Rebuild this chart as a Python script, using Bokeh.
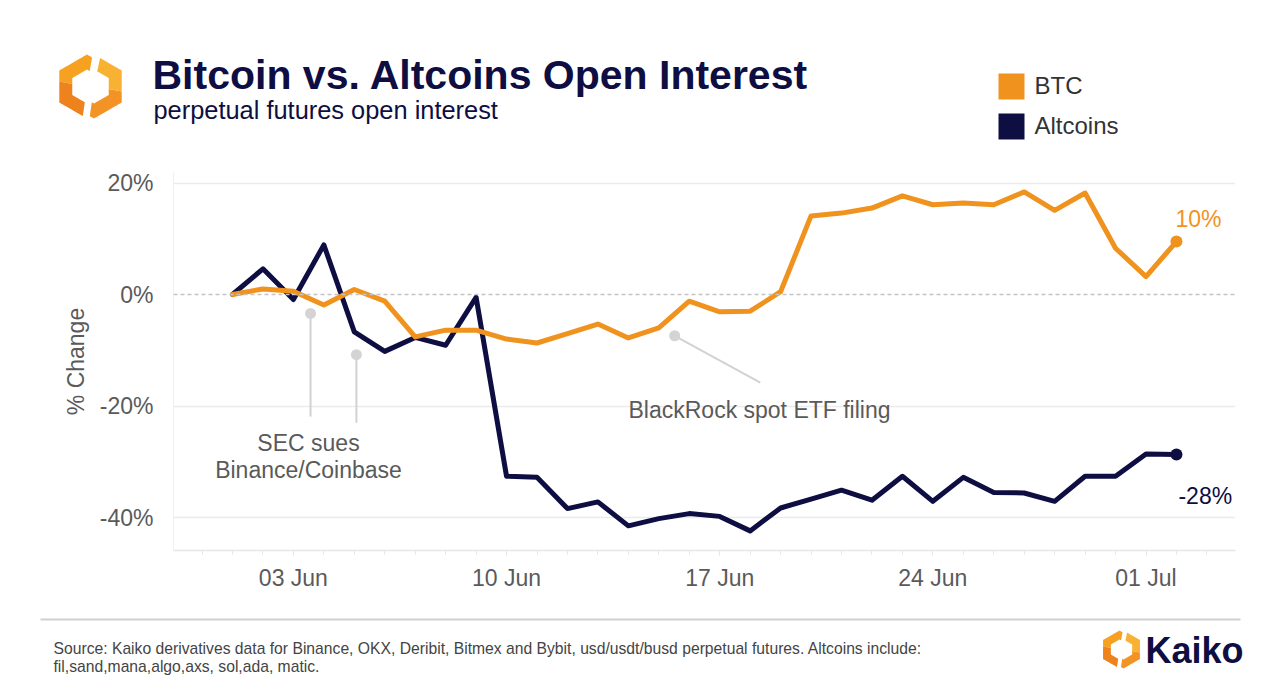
import math
import pandas as pd
from bokeh.plotting import figure
from bokeh.models import (Range1d, FixedTicker, PrintfTickFormatter, DatetimeTickFormatter,
                          Label, Span)
from bokeh.embed import file_html
from bokeh.resources import INLINE

# ---------------- data ----------------
dates = ["2023-06-01", "2023-06-02", "2023-06-03", "2023-06-04", "2023-06-05", "2023-06-06",
         "2023-06-07", "2023-06-08", "2023-06-09", "2023-06-10", "2023-06-11", "2023-06-12",
         "2023-06-13", "2023-06-14", "2023-06-15", "2023-06-16", "2023-06-17", "2023-06-18",
         "2023-06-19", "2023-06-20", "2023-06-21", "2023-06-22", "2023-06-23", "2023-06-24",
         "2023-06-25", "2023-06-26", "2023-06-27", "2023-06-28", "2023-06-29", "2023-06-30",
         "2023-07-01", "2023-07-02"]
btc = [0.0, 1.0, 0.6, -1.9, 0.9, -1.2, -7.6, -6.4, -6.4, -8.0, -8.7, -7.0, -5.3, -7.8, -6.0, -1.2,
       -3.1, -3.0, 0.5, 14.1, 14.6, 15.5, 17.7, 16.1, 16.4, 16.1, 18.4, 15.1, 18.2, 8.3, 3.2, 9.5]
altcoins = [0.0, 4.6, -0.9, 8.9, -6.7, -10.2, -7.7, -9.1, -0.5, -32.6, -32.8, -38.4, -37.2, -41.5,
            -40.2, -39.3, -39.8, -42.4, -38.3, -36.7, -35.1, -36.9, -32.6, -37.1, -32.8, -35.5,
            -35.6, -37.1, -32.6, -32.6, -28.6, -28.7]
series_names = ["BTC", "Altcoins"]
series_colors = ["#F0931E", "#0E0E42"]
end_labels = ["10%", "-28%"]
y_ticks = [-40, -20, 0, 20]
x_ticks = ["2023-06-03", "2023-06-10", "2023-06-17", "2023-06-24", "2023-07-01"]
minor_days = pd.date_range("2023-05-30", "2023-07-03", freq="D")

# event annotations (anchor dot, end of pointer)
sec_dates = ["2023-06-03 13:30", "2023-06-05 01:40"]
sec_dot_y = [-3.4, -10.8]
sec_end_y = [-21.9, -23.0]
etf_dates = ["2023-06-15 12:30", "2023-06-18 08:00"]
etf_y = [-7.4, -15.8]

title = "Bitcoin vs. Altcoins Open Interest"
subtitle = "perpetual futures open interest"
source_lines = ["Source: Kaiko derivatives data for Binance, OKX, Deribit, Bitmex and Bybit, usd/usdt/busd perpetual futures. Altcoins include:",
                "fil,sand,mana,algo,axs, sol,ada, matic."]

# ---------------- layout ----------------
W = 1280
HEAD_BOT = 164      # page y where the main figure starts
MAIN_BOT = 610      # page y where the footer starts
PAGE_H = 699
FL, FR, FT, FB = 173, 1235, 172, 550          # frame edges in page px
DAY_MS = 86400000.0

FONT = "Liberation Sans"
GRAY = "#5a5a5a"
NAVY = "#0E0E42"


def ms(s):
    return (pd.Timestamp(s) - pd.Timestamp("1970-01-01")).total_seconds() * 1000.0


PX_PER_DAY = 30.45
ANCHOR_PX = 232.0       # page x of 01 Jun
ZERO_PX = 294.0         # page y of 0%
PX_PER_PCT = 5.575
x0 = ms("2023-06-01") + (FL - ANCHOR_PX) / PX_PER_DAY * DAY_MS
x1 = ms("2023-06-01") + (FR - ANCHOR_PX) / PX_PER_DAY * DAY_MS
y1 = (ZERO_PX - FT) / PX_PER_PCT
y0 = (ZERO_PX - FB) / PX_PER_PCT


def dx(px):
    return x0 + (px - FL) / (FR - FL) * (x1 - x0)


def dy(py):
    return y1 - (py - FT) / (FB - FT) * (y1 - y0)


def add_label(fig, x, y, text, size, color, bold=False, align="left", font=FONT):
    fig.add_layout(Label(x=x, y=y, text=text, text_font=font,
                         text_font_size=f"{size}px", text_color=color,
                         text_font_style="bold" if bold else "normal",
                         text_align=align, text_baseline="middle"))


# ---------------- main chart ----------------
p = figure(width=W, height=MAIN_BOT - HEAD_BOT, x_axis_type="datetime",
           x_range=Range1d(x0, x1), y_range=Range1d(y0, y1),
           output_backend="svg", toolbar_location=None,
           min_border_left=FL, min_border_right=W - FR,
           min_border_top=FT - HEAD_BOT, min_border_bottom=MAIN_BOT - FB)
p.outline_line_color = None
p.background_fill_color = "white"
p.border_fill_color = "white"

p.xgrid.visible = False
p.ygrid.ticker = FixedTicker(ticks=[t for t in y_ticks if t != 0])
p.ygrid.grid_line_color = "#ebebeb"
p.ygrid.grid_line_width = 1.5
p.add_layout(Span(location=0, dimension="width", line_color="#c4c4c4",
                  line_dash="4 3", line_width=1.5))

p.yaxis.ticker = FixedTicker(ticks=y_ticks)
p.yaxis.formatter = PrintfTickFormatter(format="%d%%")
p.yaxis.major_label_text_font = FONT
p.yaxis.major_label_text_font_size = "23px"
p.yaxis.major_label_text_color = GRAY
p.yaxis.axis_line_color = "#f0f0f0"
p.yaxis.major_tick_line_color = None
p.yaxis.minor_tick_line_color = None
p.yaxis.major_label_standoff = 14
p.yaxis.axis_label = "% Change"
p.yaxis.axis_label_text_font = FONT
p.yaxis.axis_label_text_font_size = "23px"
p.yaxis.axis_label_text_font_style = "normal"
p.yaxis.axis_label_text_color = GRAY
p.yaxis.axis_label_standoff = 8

p.xaxis.ticker = FixedTicker(ticks=[ms(d) for d in x_ticks],
                             minor_ticks=[ms(d) for d in minor_days])
fmt = "%d %b"
p.xaxis.formatter = DatetimeTickFormatter(days=fmt, months=fmt, hours=fmt, hourmin=fmt,
                                          minutes=fmt, years=fmt)
p.xaxis.major_label_text_font = FONT
p.xaxis.major_label_text_font_size = "23px"
p.xaxis.major_label_text_color = GRAY
p.xaxis.axis_line_color = "#e6e6e6"
p.xaxis.axis_line_width = 1.5
p.xaxis.major_tick_line_color = "#e6e6e6"
p.xaxis.minor_tick_line_color = "#e6e6e6"
p.xaxis.major_tick_in = 0
p.xaxis.minor_tick_in = 0
p.xaxis.major_tick_out = 5
p.xaxis.minor_tick_out = 4
p.xaxis.major_label_standoff = 9

xd = pd.to_datetime(dates)
sec_x = pd.to_datetime(sec_dates)
etf_x = pd.to_datetime(etf_dates)
p.segment(x0=sec_x, y0=sec_dot_y, x1=sec_x, y1=sec_end_y, line_color="#d2d2d2", line_width=2)
p.segment(x0=[etf_x[0]], y0=[etf_y[0]], x1=[etf_x[1]], y1=[etf_y[1]], line_color="#d2d2d2", line_width=2)
p.scatter(x=list(sec_x) + [etf_x[0]], y=sec_dot_y + [etf_y[0]], size=11,
          fill_color="#d4d4d4", line_color=None)

for vals, col in zip([altcoins, btc], [series_colors[1], series_colors[0]]):
    p.line(xd, vals, line_color=col, line_width=5, line_join="round", line_cap="round")
    p.scatter(x=[xd[-1]], y=[vals[-1]], size=12, fill_color=col, line_color=None)

p.add_layout(Label(x=ms(dates[-1]), y=btc[-1], text=end_labels[0], x_offset=-1, y_offset=23,
                   text_font=FONT, text_font_size="23px", text_color=series_colors[0],
                   text_baseline="middle", text_align="left"))
p.add_layout(Label(x=ms(dates[-1]), y=altcoins[-1], text=end_labels[1], x_offset=2, y_offset=-41,
                   text_font=FONT, text_font_size="23px", text_color=NAVY,
                   text_baseline="middle", text_align="left"))

add_label(p, dx(759), dy(409), "BlackRock spot ETF filing", 23, GRAY, align="center")
add_label(p, dx(308), dy(442), "SEC sues", 23, GRAY, align="center")
add_label(p, dx(308), dy(469), "Binance/Coinbase", 23, GRAY, align="center")


# ---------------- header & footer canvases (page-pixel coordinates) ----------------
def canvas(top, bot):
    f = figure(width=W, height=bot - top, x_range=Range1d(0, W), y_range=Range1d(bot, top),
               output_backend="svg", toolbar_location=None, min_border=0,
               x_axis_location=None, y_axis_location=None)
    f.grid.visible = False
    f.outline_line_color = None
    f.background_fill_color = "white"
    f.border_fill_color = "white"
    return f


def hex_rho(theta, R):
    t = math.radians(((theta + 30) % 60) - 30)
    return R * math.cos(math.radians(30)) / math.cos(t)


def ring_piece(fig, cx, cy, R, r, a0, a1, color):
    angs = list(range(a0, a1 + 1))
    outer = [(cx + hex_rho(a, R) * math.cos(math.radians(a)),
              cy - hex_rho(a, R) * math.sin(math.radians(a))) for a in angs]
    inner = [(cx + hex_rho(a, r) * math.cos(math.radians(a)),
              cy - hex_rho(a, r) * math.sin(math.radians(a))) for a in reversed(angs)]
    pts = outer + inner
    fig.patch(x=[a for a, _ in pts], y=[b for _, b in pts], fill_color=color, line_color=None)


def logo(fig, cx, cy, R, r, off):
    ring_piece(fig, cx - off, cy, R, r, 80, 170, "#F6A11F")
    ring_piece(fig, cx - off, cy, R, r, 170, 262, "#EE821C")
    ring_piece(fig, cx + off, cy, R, r, 262, 350, "#F39326")
    ring_piece(fig, cx + off, cy, R, r, 350, 438, "#F9B134")


head = canvas(0, HEAD_BOT)
logo(head, 90, 86, 32, 17, 3.5)
add_label(head, 152, 74, title, 41, NAVY, bold=True)
add_label(head, 153, 109, subtitle, 25.4, NAVY)
for i, (name, col) in enumerate(zip(series_names, series_colors)):
    top = 73 + i * 40
    head.quad(left=[998], right=[1024], top=[top], bottom=[top + 26], fill_color=col, line_color=None)
    add_label(head, 1034, top + 12, name, 24, "#333333")

foot = canvas(MAIN_BOT, PAGE_H)
foot.quad(left=[40], right=[1240], top=[618], bottom=[620], fill_color="#d0d0d0", line_color=None)
add_label(foot, 53, 648, source_lines[0], 15.7, "#444444")
add_label(foot, 53, 666, source_lines[1], 15.7, "#444444")
logo(foot, 1121, 649, 19, 10, 2)
add_label(foot, 1145, 650, "Kaiko", 36, NAVY, bold=True)

open("out.html", "w").write(file_html([head, p, foot], INLINE))
